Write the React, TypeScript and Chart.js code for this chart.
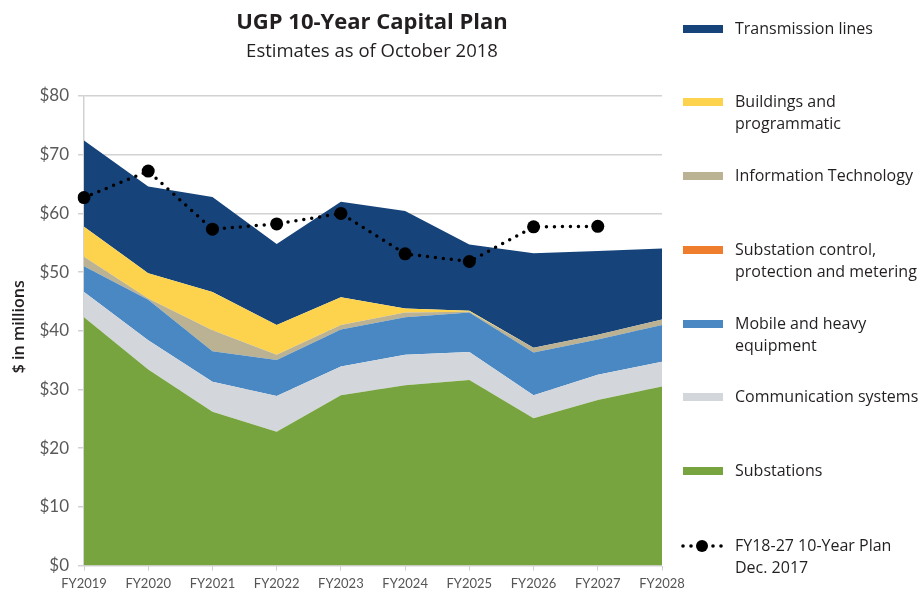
import React, { useEffect, useRef } from "react";
import { Chart, registerables } from "chart.js";

Chart.register(...registerables);

const years = ["FY2019", "FY2020", "FY2021", "FY2022", "FY2023", "FY2024", "FY2025", "FY2026", "FY2027", "FY2028"];
const substations = [42.3, 33.4, 26.2, 22.8, 29.0, 30.7, 31.6, 25.1, 28.2, 30.5];
const communication = [4.3, 5.0, 5.1, 6.1, 4.9, 5.2, 4.8, 3.9, 4.3, 4.2];
const mobile = [4.4, 6.9, 5.2, 6.1, 6.3, 6.4, 6.7, 7.3, 6.0, 6.3];
const substationControl = [0, 0, 0, 0, 0, 0, 0, 0, 0, 0];
const infoTech = [1.6, 0.2, 3.6, 0.9, 0.8, 0.8, 0.15, 0.8, 0.8, 0.9];
const buildings = [5.1, 4.3, 6.5, 5.1, 4.7, 0.7, 0.15, 0, 0, 0];
const transmission = [14.7, 14.8, 16.2, 13.8, 16.3, 16.6, 11.3, 16.1, 14.3, 12.1];
const plan2017 = [62.7, 67.2, 57.3, 58.2, 60.0, 53.1, 51.8, 57.7, 57.8, null];
const yTicks = [0, 10, 20, 30, 40, 50, 60, 70, 80];

const legendItems = [
  { lines: ["Transmission lines"], color: "#15437a", y: 29 },
  { lines: ["Buildings and", "programmatic"], color: "#fdd34d", y: 102 },
  { lines: ["Information Technology"], color: "#bbb293", y: 176 },
  { lines: ["Substation control,", "protection and metering"], color: "#ef7d2e", y: 250 },
  { lines: ["Mobile and heavy", "equipment"], color: "#4a88c3", y: 324 },
  { lines: ["Communication systems"], color: "#d3d7db", y: 397 },
  { lines: ["Substations"], color: "#78a440", y: 471 },
  { lines: ["FY18-27 10-Year Plan", "Dec. 2017"], color: "plan", y: 546 },
];

const TEXT_FONT = "'Open Sans', 'Noto Sans', sans-serif";

const overlayPlugin = {
  id: "overlay",
  afterDraw(chart: any) {
    const ctx = chart.ctx as CanvasRenderingContext2D;
    const area = chart.chartArea;
    ctx.save();
    // Title
    ctx.fillStyle = "#231f20";
    ctx.textAlign = "center";
    ctx.textBaseline = "middle";
    const cx = (area.left + area.right) / 2 - 1;
    ctx.font = `bold 22px ${TEXT_FONT}`;
    ctx.fillText("UGP 10-Year Capital Plan", cx, 23);
    ctx.font = `18.5px ${TEXT_FONT}`;
    ctx.fillText("Estimates as of October 2018", cx, 52);
    // Y title
    ctx.save();
    ctx.translate(19, (area.top + area.bottom) / 2 - 4);
    ctx.rotate(-Math.PI / 2);
    ctx.font = `600 16px ${TEXT_FONT}`;
    ctx.fillStyle = "#231f20";
    ctx.fillText("$ in millions", 0, 0);
    ctx.restore();
    // Legend
    ctx.textAlign = "left";
    ctx.font = `16px ${TEXT_FONT}`;
    for (const item of legendItems) {
      if (item.color === "plan") {
        ctx.fillStyle = "#000";
        for (const dx of [683, 691, 713, 721]) {
          ctx.beginPath();
          ctx.arc(dx, item.y, 1.8, 0, Math.PI * 2);
          ctx.fill();
        }
        ctx.beginPath();
        ctx.arc(702, item.y, 6, 0, Math.PI * 2);
        ctx.fill();
      } else {
        ctx.fillStyle = item.color;
        ctx.fillRect(683, item.y - 4, 40, 8);
      }
      ctx.fillStyle = "#231f20";
      item.lines.forEach((ln, i) => {
        ctx.fillText(ln, 735, item.y + i * 22);
      });
    }
    ctx.restore();
  },
};

function area(label: string, data: number[], color: string, fill: string | boolean) {
  return {
    label,
    data,
    backgroundColor: color,
    borderColor: color,
    borderWidth: 0,
    pointRadius: 0,
    fill,
    tension: 0,
    stack: "main",
    order: 2,
  };
}

export default function App() {
  const ref = useRef<HTMLCanvasElement>(null);
  useEffect(() => {
    document.body.style.margin = "0";
    let chart: Chart | null = null;
    let cancelled = false;
    const make = () => {
      if (cancelled || !ref.current) return;
      chart = new Chart(ref.current, {
        type: "line",
        data: {
          labels: years,
          datasets: [
            area("Substations", substations, "#78a440", "origin"),
            area("Communication systems", communication, "#d3d7db", "-1"),
            area("Mobile and heavy equipment", mobile, "#4a88c3", "-1"),
            area("Substation control, protection and metering", substationControl, "#ef7d2e", "-1"),
            area("Information Technology", infoTech, "#bbb293", "-1"),
            area("Buildings and programmatic", buildings, "#fdd34d", "-1"),
            area("Transmission lines", transmission, "#15437a", "-1"),
            {
              label: "FY18-27 10-Year Plan Dec. 2017",
              data: plan2017,
              borderColor: "#000",
              backgroundColor: "#000",
              borderWidth: 3.5,
              borderDash: [0, 8],
              borderCapStyle: "round",
              pointRadius: 6.5,
              pointBackgroundColor: "#000",
              pointBorderWidth: 0,
              fill: false,
              tension: 0,
              stack: "plan",
              order: 1,
            } as any,
          ],
        },
        options: {
          animation: false,
          responsive: false,
          layout: { padding: { left: 0, right: 262, top: 96, bottom: 0 } },
          plugins: {
            legend: { display: false },
            tooltip: { enabled: false },
            title: { display: false },
          },
          scales: {
            x: {
              offset: false,
              grid: { drawOnChartArea: false, drawTicks: true, tickLength: 5, color: "#cfcfcf" },
              border: { display: false },
              ticks: {
                font: { family: "Lato, 'Open Sans', sans-serif", size: 13 },
                color: "#555",
                padding: 6,
                maxRotation: 0,
                autoSkip: false,
              },
              afterFit: (s: any) => {
                s.height = 26.5;
              },
            },
            y: {
              stacked: true,
              min: 0,
              max: 80,
              afterBuildTicks: (s: any) => {
                s.ticks = yTicks.map((v) => ({ value: v }));
              },
              grid: { color: "#d2d2d2", lineWidth: 1.5, tickLength: 6 },
              border: { display: true, color: "#d2d2d2", width: 1.5 },
              ticks: {
                font: { family: "Lato, 'Open Sans', sans-serif", size: 17 },
                color: "#595959",
                padding: 9,
                callback: (v: any) => "$" + v,
              },
              afterFit: (s: any) => {
                s.width = 84;
              },
            },
          },
        },
        plugins: [overlayPlugin],
      });
    };
    const fonts = document.fonts;
    Promise.all([
      fonts.load("16px 'Open Sans'"),
      fonts.load("bold 22px 'Open Sans'"),
      fonts.load("600 16px 'Open Sans'"),
      fonts.load("17px Lato"),
    ])
      .catch(() => null)
      .then(make);
    return () => {
      cancelled = true;
      if (chart) chart.destroy();
    };
  }, []);
  return (
    <div style={{ width: 924, height: 592, background: "#fff" }}>
      <canvas ref={ref} width={924} height={592} style={{ display: "block" }} />
    </div>
  );
}
